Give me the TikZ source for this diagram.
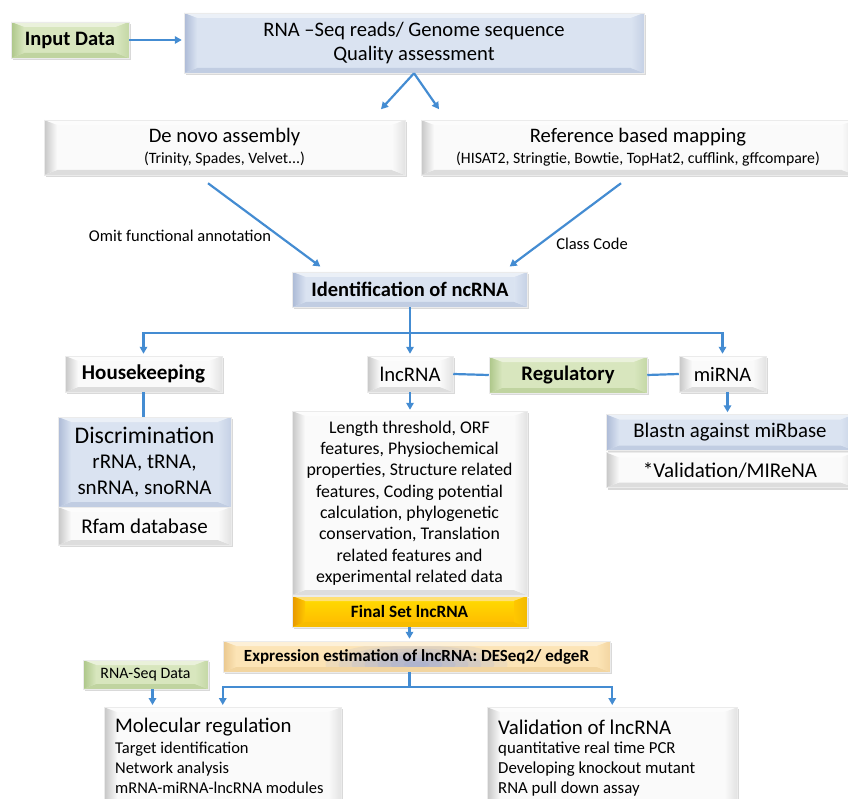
\documentclass[tikz,border=0pt]{standalone}
\usepackage{fontspec}
\setmainfont{Carlito}
\usetikzlibrary{arrows.meta,positioning,shadows,calc}
\definecolor{linkblue}{RGB}{68,140,210}
\definecolor{facewhite}{RGB}{250,250,250}
\definecolor{edgegray}{RGB}{198,198,198}
\definecolor{boxblue}{RGB}{218,227,241}
\definecolor{edgeblue}{RGB}{172,186,214}
\definecolor{boxgreen}{RGB}{216,230,190}
\definecolor{edgegreen}{RGB}{172,198,136}
\definecolor{boxgold}{RGB}{255,184,0}
\definecolor{boxyellow}{RGB}{255,222,0}
\definecolor{edgegold}{RGB}{230,150,0}
\definecolor{boxpeach}{RGB}{252,228,182}
\definecolor{edgepeach}{RGB}{234,200,142}
\definecolor{glowblue}{RGB}{100,135,236}

\begin{document}
\begin{tikzpicture}[x=1pt, y=-1pt,
    box/.style = {draw=black!8, line width=0.5pt, inner sep=0pt, align=center,
      drop shadow={opacity=0.3, shadow xshift=1.5pt, shadow yshift=-2pt}},
    bevel/.style n args = {4}{path picture={
      #4
      \path (path picture bounding box.north west) coordinate (bnw) (path picture bounding box.north east) coordinate (bne)
        (path picture bounding box.south west) coordinate (bsw) (path picture bounding box.south east) coordinate (bse);
      \fill[#1!55!white] (bnw) -- (bne) -- ([xshift=-13pt,yshift=-5pt]bne) -- ([xshift=13pt,yshift=-5pt]bnw) -- cycle;
      \fill[#2!55!#1] (bsw) -- (bse) -- ([xshift=-13pt,yshift=5pt]bse) -- ([xshift=13pt,yshift=5pt]bsw) -- cycle;
      \shade[left color=#2, right color=#1] (bnw) -- ([xshift=13pt,yshift=-5pt]bnw) -- ([xshift=13pt,yshift=5pt]bsw) -- (bsw) -- cycle;
      \shade[left color=#1, right color=#3] (bne) -- ([xshift=-13pt,yshift=-5pt]bne) -- ([xshift=-13pt,yshift=5pt]bse) -- (bse) -- cycle;}},
    whitebox/.style = {box, fill=facewhite, bevel={facewhite}{edgegray}{edgegray!45!facewhite}{}},
    bluebox/.style = {box, fill=boxblue, bevel={boxblue}{edgeblue}{edgeblue!45!boxblue}{}},
    greenbox/.style = {box, fill=boxgreen, bevel={boxgreen}{edgegreen}{edgegreen!45!boxgreen}{}},
    goldbox/.style = {box, top color=boxyellow, bottom color=boxgold, bevel={boxgold!60!boxyellow}{edgegold}{edgegold!50!boxyellow}{}},
    glowbox/.style = {box, fill=boxpeach, bevel={boxpeach}{edgepeach}{edgepeach!50!boxpeach}
      {\foreach \r in {1,...,7}
         \fill[glowblue, opacity=0.09] ([yshift=-8pt]path picture bounding box.center) ellipse [x radius={13pt*\r}, y radius={3.2pt*\r}];}},
    link/.style = {linkblue, line width=2.2pt},
    arr/.style = {link, -{Triangle[length=7pt,width=7.5pt]}, shorten >=2pt},
    lbl/.style = {font=\fontsize{16.5}{19}\selectfont}]
  \useasboundingbox (0,0) rectangle (848,799);

  % top row
  \node[greenbox, minimum width=118, minimum height=36, font=\fontsize{20.5}{22}\selectfont\bfseries] (input) at (70,40) {Input Data};
  \node[bluebox, minimum width=460, minimum height=60, font=\fontsize{20.6}{24}\selectfont] (rna) at (414,43) {RNA –Seq reads/ Genome sequence\\Quality assessment};
  \node[whitebox, minimum width=361, minimum height=55, font=\fontsize{20.6}{22}\selectfont] (denovo) at (224.5,147.5) {De novo assembly\\[-1pt]{\fontsize{15.8}{17}\selectfont (Trinity, Spades, Velvet...)}};
  \node[whitebox, minimum width=434, minimum height=55, font=\fontsize{20.6}{22}\selectfont] (ref) at (638,147.5) {Reference based mapping\\[-1pt]{\fontsize{15.8}{17}\selectfont (HISAT2, Stringtie, Bowtie, TopHat2, cufflink, gffcompare)}};
  \node[bluebox, minimum width=235, minimum height=35, font=\fontsize{20.5}{22}\selectfont\bfseries] (ident) at (410,289.5) {Identification of ncRNA};
  \node[lbl] (omit) at (180,236) {Omit functional annotation};
  \node[lbl] (classcode) at (592,244) {Class Code};

  \draw[arr] (input.east) -- (input.east -| rna.west);
  \coordinate (splitL) at ($(rna.south)+(-33,36)$);
  \coordinate (splitR) at ($(rna.south)+(25,36)$);
  \draw[arr, shorten >=0pt] (rna.south) -- (splitL);
  \draw[arr, shorten >=0pt] (rna.south) -- (splitR);
  \draw[arr] ($(denovo.south)+(-16.5,8)$) -- ($(ident.north)+(-88,-4)$);
  \draw[arr] ($(ref.south)+(-17,8)$) -- ($(ident.north)+(98,-4)$);

  % ncRNA classes
  \node[whitebox, minimum width=157, minimum height=36, font=\fontsize{21}{22}\selectfont\bfseries] (hk) at (143.5,374) {Housekeeping};
  \node[whitebox, minimum width=86, minimum height=36, font=\fontsize{20.7}{22}\selectfont] (lnc) at (410,374) {lncRNA};
  \node[greenbox, minimum width=158, minimum height=36, font=\fontsize{20.7}{22}\selectfont\bfseries] (reg) at (568,375) {Regulatory};
  \node[whitebox, minimum width=87, minimum height=36, font=\fontsize{20.5}{22}\selectfont] (mirna) at (722.5,374) {miRNA};

  \coordinate (fork) at ($(ident.south)+(0,26)$);
  \draw[link] (ident.south) -- (fork);
  \draw[arr] (fork) -| (hk.north);
  \draw[arr] (fork) -| (mirna.north);
  \draw[arr] (fork) -- (fork |- lnc.north);
  \draw[link] (lnc.east) -- (reg.west);
  \draw[link] (reg.east) -- (mirna.west);

  \node[bluebox, minimum width=173, minimum height=90, font=\fontsize{21}{25.5}\selectfont] (disc) at (144.5,462) {{\fontsize{23.8}{25.5}\selectfont Discrimination}\\rRNA, tRNA,\\snRNA, snoRNA};
  \node[whitebox, minimum width=173, minimum height=38, font=\fontsize{21}{22}\selectfont] (rfam) at (144.5,526) {Rfam database};
  \node[whitebox, minimum width=235, minimum height=184, font=\fontsize{17.8}{21.3}\selectfont] (feat) at (409.5,503) {Length threshold, ORF\\features, Physiochemical\\properties, Structure related\\features, Coding potential\\calculation, phylogenetic\\conservation, Translation\\related features and\\experimental related data};
  \node[goldbox, minimum width=235, minimum height=31, font=\fontsize{17.3}{19}\selectfont\bfseries] (final) at (409.5,611.5) {Final Set lncRNA};
  \node[bluebox, minimum width=248, minimum height=36, font=\fontsize{20.8}{22}\selectfont] (blast) at (730,432.5) {Blastn against miRbase};
  \node[whitebox, minimum width=248, minimum height=35, font=\fontsize{21}{22}\selectfont] (mirena) at (730,470) {*Validation/MIReNA};

  \draw[link] (hk.south) -- (hk.south |- disc.north);
  \draw[arr, shorten >=1pt] (lnc.south) -- (lnc.south |- feat.north);
  \draw[arr] ([xshift=5pt]mirna.south) -- ([xshift=5pt]mirna.south |- blast.north);

  % expression and downstream
  \node[glowbox, minimum width=387, minimum height=31, font=\fontsize{17}{19}\selectfont\bfseries] (expr) at (416.5,656.5) {Expression estimation of lncRNA: DESeq2/ edgeR};
  \node[greenbox, minimum width=125, minimum height=29, font=\fontsize{15.9}{17}\selectfont] (rnaseq) at (145.5,674.5) {RNA-Seq Data};
  \node[whitebox, minimum width=237, minimum height=110, anchor=north west] (molreg) at (104,707) {};
  \node[whitebox, minimum width=250, minimum height=110, anchor=north west] (valid) at (487,707) {};
  \node[anchor=west, inner sep=0pt, font=\fontsize{20.8}{22}\selectfont] (molregtitle) at (115,727) {Molecular regulation};
  \node[anchor=north west, inner sep=0pt, align=left, font=\fontsize{16.5}{20}\selectfont] (molregitems) at (115,741.5) {Target identification\\Network analysis\\mRNA-miRNA-lncRNA modules};
  \node[anchor=west, inner sep=0pt, font=\fontsize{20.9}{22}\selectfont] (validtitle) at (498,727) {Validation of lncRNA};
  \node[anchor=north west, inner sep=0pt, align=left, font=\fontsize{16.8}{20}\selectfont] (validitems) at (498,741.5) {quantitative real time PCR\\Developing knockout mutant\\RNA pull down assay};

  \draw[arr] (final.south) -- (final.south |- expr.north);
  \coordinate (fork2) at ($(final.south |- expr.south)+(0,15)$);
  \draw[link] (final.south |- expr.south) -- (fork2);
  \draw[arr] (fork2) -| (molreg.north);
  \draw[arr] (fork2) -| (valid.north);
  \draw[arr] ([xshift=7pt]rnaseq.south) -- ([xshift=7pt]rnaseq.south |- molreg.north);
\end{tikzpicture}
\end{document}
